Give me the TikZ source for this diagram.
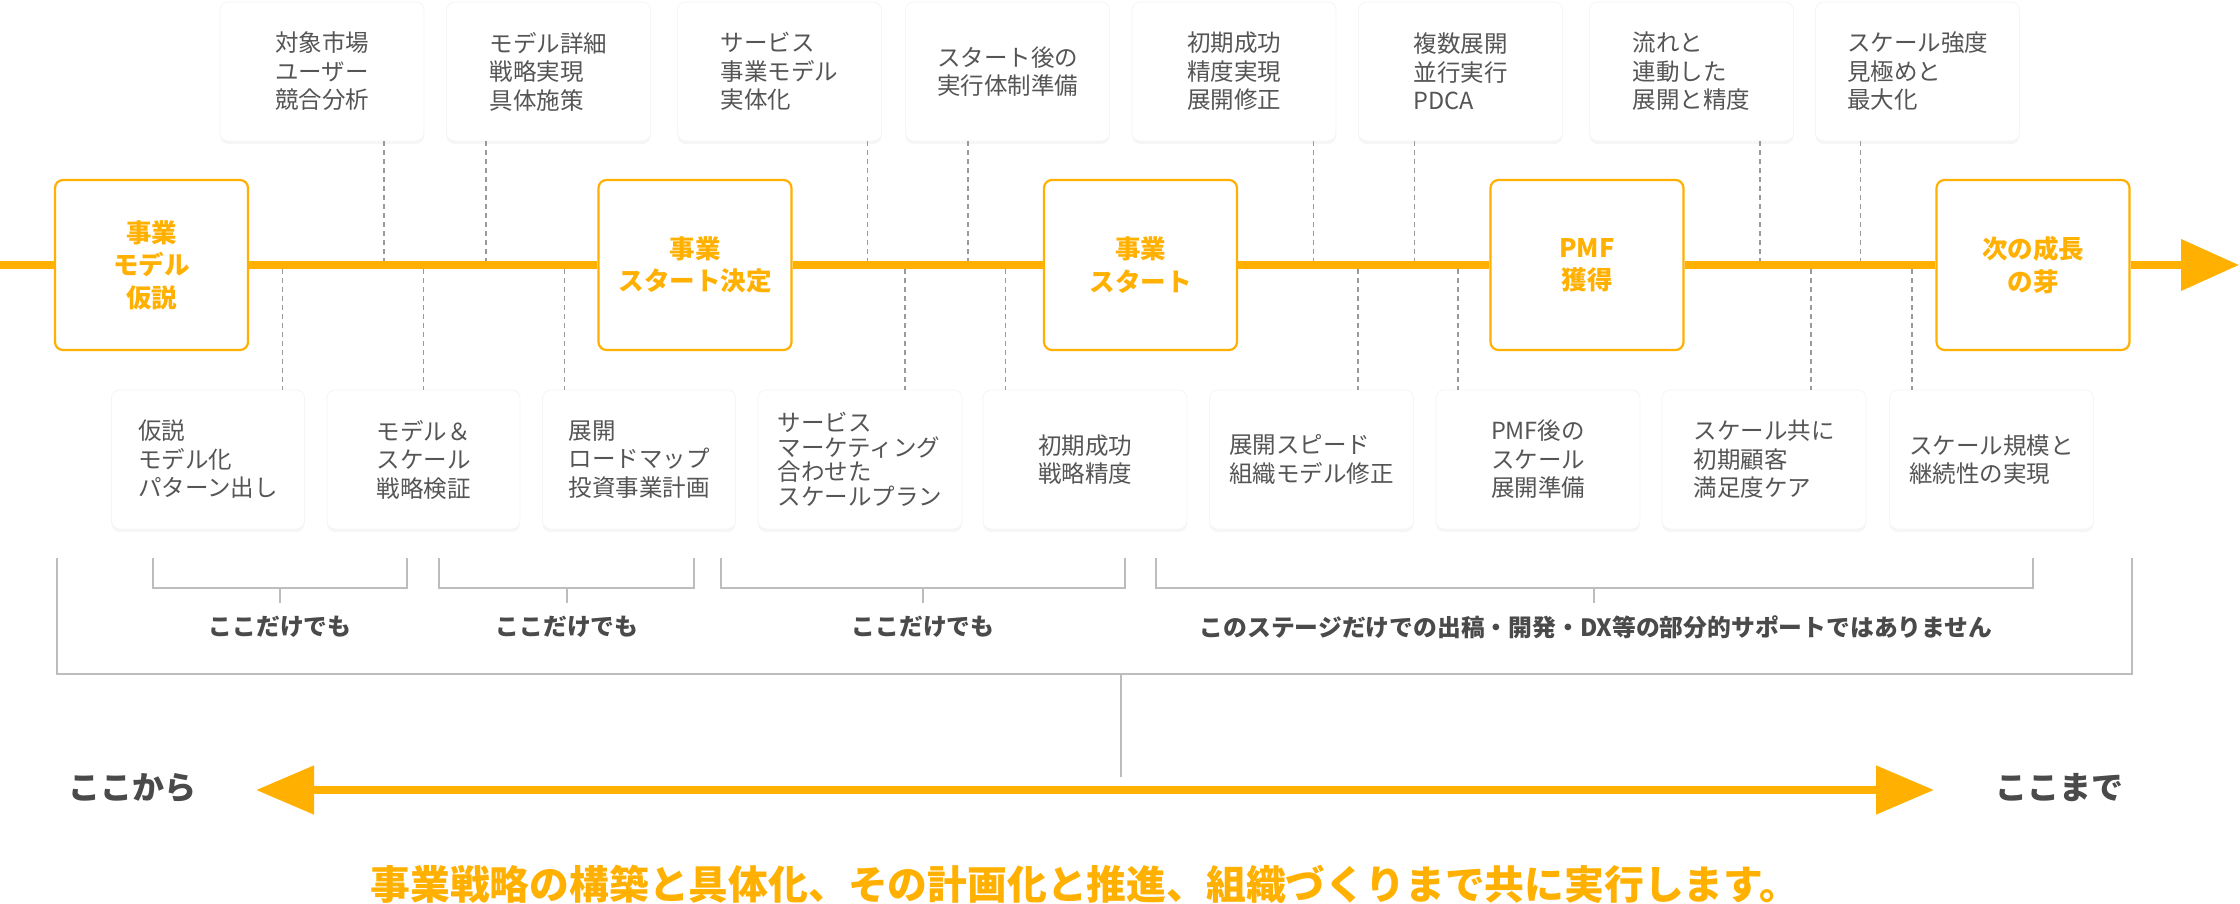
\documentclass[tikz,border=0pt]{standalone}
\usepackage{fontspec}
\setmainfont{Noto Sans CJK JP}
\usetikzlibrary{arrows.meta,shadows,backgrounds}
\definecolor{org}{HTML}{FFB000}
\definecolor{txt}{HTML}{555555}
\definecolor{dk}{HTML}{4A4A4A}
\definecolor{dsh}{HTML}{9A9A9A}
\definecolor{brk}{HTML}{BDBDBD}
\tikzset{
  card/.style={draw=black!4, line width=0.8pt, fill=white, rounded corners=8pt,
    minimum width=204pt, minimum height=139pt, inner sep=0pt, align=left,
    font=\fontsize{23.5}{28.5}\selectfont, text=txt,
    drop shadow={opacity=0.07, shadow xshift=0pt, shadow yshift=-3pt}},
  narrowcard/.style={card, minimum width=193pt},
  stage/.style={draw=org, line width=2.2pt, fill=white, rounded corners=8pt,
    minimum width=193pt, minimum height=170pt, inner sep=0pt, align=center,
    font=\fontsize{25.5}{32.5}\selectfont\bfseries, text=org},
  dl/.style={draw=dsh, line width=1.2pt, dash pattern=on 5pt off 4pt},
  br/.style={draw=brk, line width=2pt},
  lbl/.style={font=\fontsize{23.8}{28}\selectfont\bfseries, text=dk, inner sep=0pt},
  endlbl/.style={font=\fontsize{32}{36}\selectfont\bfseries, text=dk, inner sep=0pt},
  mainline/.style={draw=org, line width=7.5pt},
}
\begin{document}
\begin{tikzpicture}[x=1pt,y=-1pt]
\useasboundingbox (0,0) rectangle (2240,904);

% line reference coordinates
\coordinate (Ls) at (0,265);
\coordinate (Le) at (2239,265);
\coordinate (Lt) at (0,261);
\coordinate (Lb) at (0,269);

% stage boxes
\node[stage] (s1) at (151.5,265) {事業\\モデル\\仮説};
\node[stage] (s2) at (695,265) {事業\\スタート決定};
\node[stage] (s3) at (1140.5,265) {事業\\スタート};
\node[stage] (s4) at (1587,265) {PMF\\獲得};
\node[stage] (s5) at (2033,265) {次の成長\\の芽};

% main line segments
\draw[mainline] (Ls) -- (s1.west);
\draw[mainline] (s1.east) -- (s2.west);
\draw[mainline] (s2.east) -- (s3.west);
\draw[mainline] (s3.east) -- (s4.west);
\draw[mainline] (s4.east) -- (s5.west);
\draw[mainline, -{Triangle[length=58pt,width=50pt]}] (s5.east) -- (Le);

% top cards
\node[card] (t1) at (322,71.5) {対象市場\\ユーザー\\競合分析};
\node[card] (t2) at (548.5,71.5) {モデル詳細\\戦略実現\\具体施策};
\node[card] (t3) at (779.5,71.5) {サービス\\事業モデル\\実体化};
\node[card] (t4) at (1007.5,71.5) {スタート後の\\実行体制準備};
\node[card] (t5) at (1234,71.5) {初期成功\\精度実現\\展開修正};
\node[card] (t6) at (1460.5,71.5) {複数展開\\並行実行\\PDCA};
\node[card] (t7) at (1691.5,71.5) {流れと\\連動した\\展開と精度};
\node[card] (t8) at (1917.5,71.5) {スケール強度\\見極めと\\最大化};

% bottom cards
\node[narrowcard] (b1) at (208,459.5) {仮説\\モデル化\\パターン出し};
\node[narrowcard] (b2) at (423.5,459.5) {モデル＆\\スケール\\戦略検証};
\node[narrowcard] (b3) at (639,459.5) {展開\\ロードマップ\\投資事業計画};
\node[card, font=\fontsize{23.5}{24.5}\selectfont] (b4) at (860,459.5) {サービス\\マーケティング\\合わせた\\スケールプラン};
\node[card] (b5) at (1085,459.5) {初期成功\\戦略精度};
\node[card] (b6) at (1311.5,459.5) {展開スピード\\組織モデル修正};
\node[card] (b7) at (1538,459.5) {PMF後の\\スケール\\展開準備};
\node[card] (b8) at (1764,459.5) {スケール共に\\初期顧客\\満足度ケア};
\node[card] (b9) at (1991.5,459.5) {スケール規模と\\継続性の実現};

% dashed leaders, top
\draw[dl] (384,0 |- t1.south) -- (384,0 |- Lt);
\draw[dl] (486,0 |- t2.south) -- (486,0 |- Lt);
\draw[dl] (867.5,0 |- t3.south) -- (867.5,0 |- Lt);
\draw[dl] (968,0 |- t4.south) -- (968,0 |- Lt);
\draw[dl] (1313.5,0 |- t5.south) -- (1313.5,0 |- Lt);
\draw[dl] (1414.5,0 |- t6.south) -- (1414.5,0 |- Lt);
\draw[dl] (1760,0 |- t7.south) -- (1760,0 |- Lt);
\draw[dl] (1860.5,0 |- t8.south) -- (1860.5,0 |- Lt);

% dashed leaders, bottom
\draw[dl] (282.5,0 |- Lb) -- (282.5,0 |- b1.north);
\draw[dl] (423.5,0 |- Lb) -- (423.5,0 |- b2.north);
\draw[dl] (564.5,0 |- Lb) -- (564.5,0 |- b3.north);
\draw[dl] (905,0 |- Lb) -- (905,0 |- b4.north);
\draw[dl] (1005.5,0 |- Lb) -- (1005.5,0 |- b5.north);
\draw[dl] (1358,0 |- Lb) -- (1358,0 |- b6.north);
\draw[dl] (1458,0 |- Lb) -- (1458,0 |- b7.north);
\draw[dl] (1811,0 |- Lb) -- (1811,0 |- b8.north);
\draw[dl] (1912,0 |- Lb) -- (1912,0 |- b9.north);

% brackets and labels
\node[lbl] (k1) at (280,627) {ここだけでも};
\node[lbl] (k2) at (567,627) {ここだけでも};
\node[lbl] (k3) at (923,627) {ここだけでも};
\node[lbl] (k4) at (1596,627) {このステージだけでの出稿・開発・DX等の部分的サポートではありません};
\draw[br] (152.5,558) -- (152.5,588) -- (407,588) -- (407,558);
\draw[br] (280,588) -- (280,603);
\draw[br] (438.5,558) -- (438.5,588) -- (694,588) -- (694,558);
\draw[br] (567,588) -- (567,603);
\draw[br] (721,558) -- (721,588) -- (1125,588) -- (1125,558);
\draw[br] (923,588) -- (923,603);
\draw[br] (1156,558) -- (1156,588) -- (2033,588) -- (2033,558);
\draw[br] (1594,588) -- (1594,603);

% outer bracket
\draw[br] (57,558) -- (57,674) -- (2132,674) -- (2132,558);
\draw[br] (1121,674) -- (1121,777);

% bottom arrow
\node[endlbl] (from) at (132,788) {ここから};
\node[endlbl] (to) at (2059,788) {ここまで};
\coordinate (aL) at (256,790);
\coordinate (aR) at (1934,790);
\draw[draw=org, line width=8pt, {Triangle[length=58pt,width=47pt]}-{Triangle[length=58pt,width=47pt]}] (aL) -- (aR);

% closing statement
\node[font=\fontsize{39.8}{44}\selectfont\bfseries, text=org, inner sep=0pt] (msg) at (1085,884) {事業戦略の構築と具体化、その計画化と推進、組織づくりまで共に実行します。};
\end{tikzpicture}
\end{document}
